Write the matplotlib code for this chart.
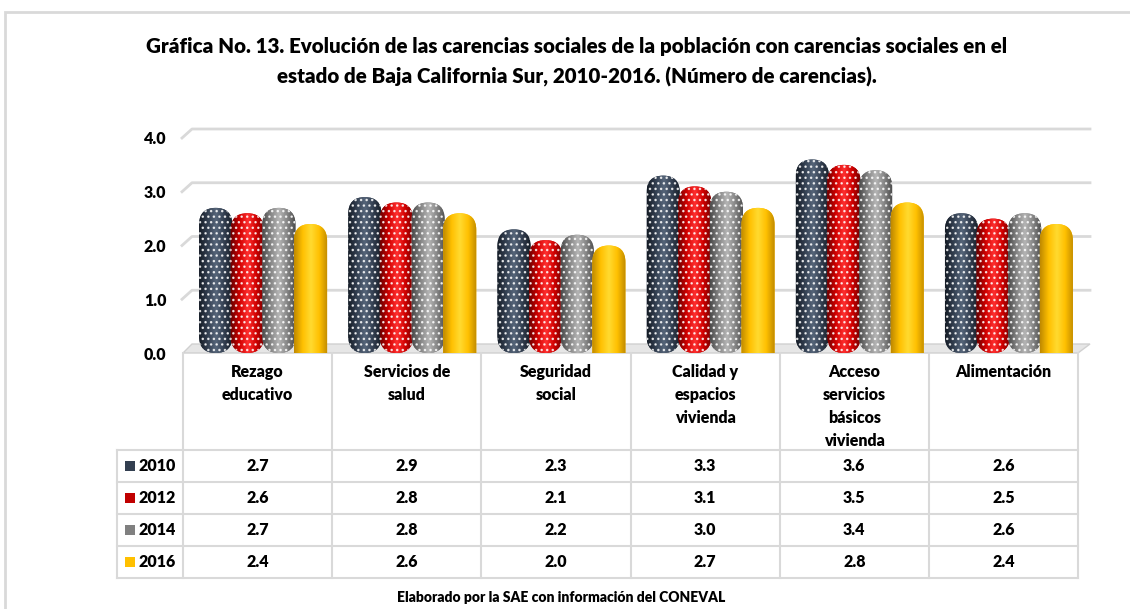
import matplotlib
matplotlib.use("Agg")
import matplotlib.pyplot as plt
import numpy as np
from matplotlib.patches import FancyBboxPatch, Rectangle, Polygon
from matplotlib.colors import LinearSegmentedColormap
from matplotlib.lines import Line2D
from matplotlib.transforms import IdentityTransform

plt.rcParams['font.family'] = ['Lato', 'DejaVu Sans']
plt.rcParams['hatch.linewidth'] = 1.0
PESO = 800

# datos
categorias = ["Rezago\neducativo", "Servicios de\nsalud", "Seguridad\nsocial",
              "Calidad y\nespacios\nvivienda", "Acceso\nservicios\nbásicos\nvivienda",
              "Alimentación"]
anios = ["2010", "2012", "2014", "2016"]
v2010 = [2.7, 2.9, 2.3, 3.3, 3.6, 2.6]
v2012 = [2.6, 2.8, 2.1, 3.1, 3.5, 2.5]
v2014 = [2.7, 2.8, 2.2, 3.0, 3.4, 2.6]
v2016 = [2.4, 2.6, 2.0, 2.7, 2.8, 2.4]
series = [v2010, v2012, v2014, v2016]
yticks = [0, 1, 2, 3, 4]

# colores: borde oscuro, base, brillo
base_col = ["#333f50", "#c00000", "#808080", "#ffc000"]
grad_col = [
    ["#151c26", "#333f50", "#56657a", "#333f50", "#151c26"],
    ["#6e0000", "#d00000", "#ff3030", "#d00000", "#6e0000"],
    ["#4a4a4a", "#858585", "#b5b5b5", "#858585", "#4a4a4a"],
    ["#c08a00", "#ffc000", "#ffda30", "#ffc000", "#c08a00"],
]
punteado = [True, True, True, False]

W, H = 1130, 609
fig = plt.figure(figsize=(W / 100, H / 100), dpi=100)


def caja(x0, y0, x1, y1):
    # pixeles de la imagen (origen arriba-izquierda) -> fraccion de figura
    return [x0 / W, 1 - y1 / H, (x1 - x0) / W, (y1 - y0) / H]


# marco
fig.add_artist(Rectangle((5 / W, -0.1), 1.2, 1 - 12 / H + 0.1, transform=fig.transFigure,
                         fill=False, ec="#d9d9d9", lw=2))

fig.text(577 / W, 1 - 47 / H,
         "Gráfica No. 13. Evolución de las carencias sociales de la población con carencias sociales en el",
         ha="center", va="center", fontsize=14.8, fontweight=PESO)
fig.text(577 / W, 1 - 77 / H,
         "estado de Baja California Sur, 2010-2016. (Número de carencias).",
         ha="center", va="center", fontsize=14.8, fontweight=PESO)

ax = fig.add_axes(caja(183, 138, 1078, 353))
ax.set_xlim(0, 6)
ax.set_ylim(0, 4)
ax.patch.set_visible(False)
for s in ax.spines.values():
    s.set_visible(False)
ax.set_xticks([])
ax.set_yticks(yticks)
ax.set_yticklabels(["%.1f" % t for t in yticks], fontsize=11.5, fontweight=PESO)
ax.tick_params(axis="y", length=0, pad=12)

# relacion de aspecto para las puntas redondeadas
fig.canvas.draw()
p0 = ax.transData.transform((0, 0))
p1 = ax.transData.transform((1, 1))
asp = (1 / (p1[1] - p0[1])) / (1 / (p1[0] - p0[0]))

# rejilla con perspectiva
dep = 9
for t in yticks:
    dx, dy = ax.transData.transform((0, t))
    ex, _ = ax.transData.transform((6, t))
    if t == 0:
        ax.add_patch(Polygon([(dx, dy), (ex, dy), (ex + 12, dy + dep), (dx + dep, dy + dep)],
                             closed=True, transform=IdentityTransform(), fc="#e6e6e6",
                             ec="#d0d0d0", lw=1, clip_on=False, zorder=1))
    else:
        ax.add_line(Line2D([dx - 1, dx + dep, ex + 12], [dy, dy + dep, dy + dep],
                           transform=IdentityTransform(), color="#d9d9d9", lw=2,
                           clip_on=False, zorder=1))

w = 0.222
for j, vals in enumerate(series):
    cmap = LinearSegmentedColormap.from_list("g%d" % j, grad_col[j])
    grad = np.linspace(0, 1, 64).reshape(1, -1)
    for i, v in enumerate(vals):
        x0 = i + 0.108 + j * 0.212
        r = w / 2 * asp
        y0 = 0 if punteado[j] else -r
        h = v - y0
        bar = FancyBboxPatch((x0, y0), w, h, boxstyle="round,pad=0,rounding_size=%f" % (w / 2),
                             mutation_aspect=asp, fc=base_col[j], ec="none", zorder=3 + j)
        ax.add_patch(bar)
        im = ax.imshow(grad, extent=[x0, x0 + w, y0, v], cmap=cmap, aspect="auto",
                       interpolation="bilinear", zorder=3 + j)
        im.set_clip_path(bar)
        if punteado[j]:
            ax.add_patch(FancyBboxPatch((x0, y0), w, h, boxstyle="round,pad=0,rounding_size=%f" % (w / 2),
                                        mutation_aspect=asp, fc="none", ec=(1, 1, 1, 0.8), lw=0,
                                        hatch="...", zorder=3 + j))
ax.set_xlim(0, 6)
ax.set_ylim(0, 4)

# tabla de datos
axt = fig.add_axes(caja(183, 353, 1078, 578))
axt.set_xlim(0, 6)
axt.set_ylim(225, 0)
axt.axis("off")
gris = "#d9d9d9"
xh = (117 - 183) / (895 / 6)
top = 97
rh = 32
for i in range(7):
    axt.plot([i, i], [0, top + 4 * rh], color=gris, lw=1.5, clip_on=False)
axt.plot([xh, xh], [top, top + 4 * rh], color=gris, lw=1.5, clip_on=False)
for k in range(5):
    axt.plot([xh, 6], [top + k * rh, top + k * rh], color=gris, lw=1.5, clip_on=False)

for i, c in enumerate(categorias):
    axt.text(i + 0.5, 11, c, ha="center", va="top", fontsize=11.5, fontweight=PESO,
             linespacing=1.55)

for k, (a, vals) in enumerate(zip(anios, series)):
    yc = top + k * rh + rh / 2
    axt.add_patch(Rectangle((-0.39, yc - 5), 0.065, 10, fc=base_col[k], ec="none", clip_on=False))
    axt.text(-0.30, yc, a, ha="left", va="center", fontsize=11.5, fontweight=PESO)
    for i, v in enumerate(vals):
        axt.text(i + 0.5, yc, "%.1f" % v, ha="center", va="center", fontsize=11.5, fontweight=PESO)

fig.text(561 / W, 1 - 598 / H, "Elaborado por la SAE con información del CONEVAL",
         ha="center", va="center", fontsize=10, fontweight=PESO)

fig.savefig("out.png", dpi=100)
